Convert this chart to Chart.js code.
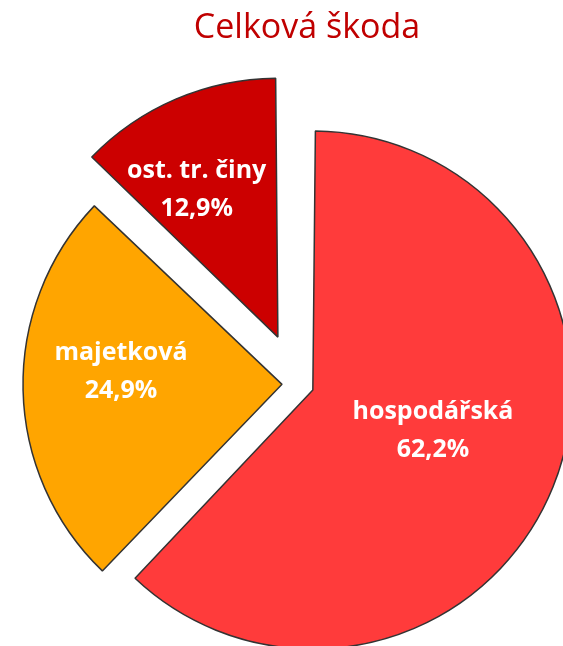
<!DOCTYPE html>
<html lang="cs">
<head>
<meta charset="utf-8">
<script src="https://cdn.jsdelivr.net/npm/chart.js@4/dist/chart.umd.min.js"></script>
<style>
  html, body { margin: 0; padding: 0; background: #fff; overflow: hidden; }
  #chart { display: block; }
</style>
</head>
<body>
<canvas id="chart" width="563" height="646"></canvas>
<script>
// Data
const categories = ['hospodářská', 'majetková', 'ost. tr. činy'];
const shares = [62.2, 24.9, 12.9];

// Look
const sliceColors = ['#FF3B3B', '#FFA500', '#CC0000'];
const explodePx = [16, 16, 51];         // how far each slice is pulled out
const labelDepth = [0.49, 0.623, 0.65]; // label distance as part of the radius
const labelTurn = [-2.8, 5.1, -4.3];    // small turn of the label off the slice middle (deg)
const pieRadius = 259;

const pctText = (v) => v.toFixed(1).replace('.', ',') + '%';

// Chart.js moves an arc by offset/4 and also grows wide arcs, undo the growth
const keepRadius = {
  id: 'keepRadius',
  beforeDatasetsDraw(chart) {
    chart.getDatasetMeta(0).data.forEach((arc) => {
      const o = (arc.options.offset || 0) / 4;
      const fix = 1 - Math.sin(Math.min(Math.PI, arc.circumference));
      arc.outerRadius = pieRadius - o * fix;
    });
  },
};

// Slice labels: name and share inside each slice
const sliceLabels = {
  id: 'sliceLabels',
  afterDatasetsDraw(chart) {
    const ctx = chart.ctx;
    const meta = chart.getDatasetMeta(0);
    ctx.save();
    ctx.font = 'bold 25px "Open Sans"';
    ctx.fillStyle = '#fff';
    ctx.textAlign = 'center';
    ctx.textBaseline = 'middle';
    meta.data.forEach((arc, i) => {
      const mid = (arc.startAngle + arc.endAngle) / 2 + (labelTurn[i] * Math.PI) / 180;
      const r = explodePx[i] + pieRadius * labelDepth[i];
      const lx = arc.x + Math.cos(mid) * r;
      const ly = arc.y + Math.sin(mid) * r;
      ctx.fillText(categories[i], lx, ly - 19);
      ctx.fillText(pctText(shares[i]), lx, ly + 19);
    });
    ctx.restore();
  },
};

// Title sits a little right of the pie centre, as in the original
const fixedTitle = {
  id: 'fixedTitle',
  afterDraw(chart) {
    const ctx = chart.ctx;
    ctx.save();
    ctx.font = '34px "Open Sans"';
    ctx.fillStyle = '#C00000';
    ctx.textAlign = 'center';
    ctx.textBaseline = 'alphabetic';
    ctx.fillText('Celková škoda', 307, 38);
    ctx.restore();
  },
};

new Chart(document.getElementById('chart'), {
  type: 'pie',
  data: {
    labels: categories,
    datasets: [
      {
        data: shares,
        backgroundColor: sliceColors,
        borderColor: '#333333',
        borderWidth: 1.5,
        offset: explodePx.map((p) => p * 4),
        radius: pieRadius,
        clip: false,
      },
    ],
  },
  options: {
    responsive: false,
    animation: false,
    radius: pieRadius,
    layout: { padding: { left: 33, right: 0, top: 122, bottom: 0 } },
    plugins: {
      legend: { display: false },
      title: { display: false },
      tooltip: { enabled: false },
    },
  },
  plugins: [keepRadius, sliceLabels, fixedTitle],
});
</script>
</body>
</html>
